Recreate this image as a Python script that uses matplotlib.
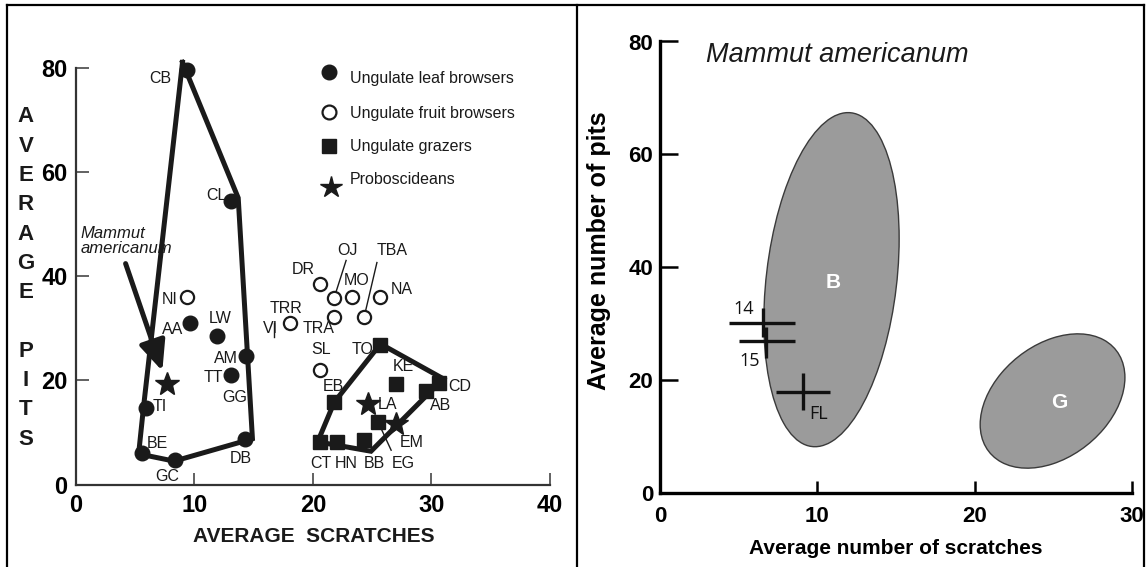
import matplotlib
matplotlib.use("Agg")
import matplotlib.pyplot as plt
from matplotlib.lines import Line2D
from matplotlib.patches import Circle
from matplotlib.transforms import Affine2D

# ---------------- data: left panel ----------------
leaf_names = ["CB", "CL", "AA", "LW", "AM", "TT", "TI", "BE", "GC", "DB"]
leaf_x = [9.4, 13.1, 9.6, 11.9, 14.35, 13.1, 5.9, 5.55, 8.4, 14.3]
leaf_y = [79.5, 54.5, 31.0, 28.5, 24.6, 21.0, 14.6, 6.1, 4.7, 8.8]

fruit_names = ["NI", "TRR", "DR", "OJ", "MO", "NA", "TRA", "TBA", "SL"]
fruit_x = [9.36, 18.1, 20.6, 21.8, 23.3, 25.7, 21.8, 24.3, 20.6]
fruit_y = [35.9, 31.0, 38.4, 35.8, 35.9, 35.9, 32.1, 32.1, 21.9]

grazer_names = ["TO", "KE", "CD", "AB", "EB", "EG", "CT", "HN", "BB"]
grazer_x = [25.7, 27.0, 30.6, 29.5, 21.8, 25.5, 20.6, 22.0, 24.3]
grazer_y = [26.7, 19.3, 19.4, 17.9, 15.8, 12.0, 8.2, 8.2, 8.5]

probo_names = ["Mammut", "LA", "EM"]
probo_x = [7.7, 24.65, 27.05]
probo_y = [19.3, 15.4, 11.7]

browser_hull_x = [9.0, 13.7, 14.9, 8.3, 5.3, 5.7, 9.0]
browser_hull_y = [81.0, 55.0, 8.8, 4.5, 5.9, 14.6, 81.0]
grazer_hull_x = [20.4, 21.8, 25.7, 31.0, 24.9, 20.4]
grazer_hull_y = [8.2, 15.8, 27.0, 20.3, 6.4, 8.2]

legend_labels = ["Ungulate leaf browsers", "Ungulate fruit browsers",
                 "Ungulate grazers", "Proboscideans"]

# ---------------- data: right panel ----------------
sample_names = ["14", "15", "FL"]
sample_x = [6.55, 6.75, 9.07]
sample_y = [30.1, 26.9, 17.9]
sample_x_lo = [4.4, 5.0, 7.4]
sample_x_hi = [8.6, 8.6, 10.8]
sample_y_lo = [27.7, 24.0, 14.7]
sample_y_hi = [32.7, 29.4, 21.3]

# ellipses: name, centre x, centre y, half-width, half-height, cos(phase)
ell_names = ["B", "G"]
ell_cx = [10.9, 24.95]
ell_cy = [37.8, 16.3]
ell_a = [4.3, 4.6]
ell_b = [29.6, 11.9]
ell_cosd = [0.245, 0.35]

ARIAL = ["Liberation Sans", "DejaVu Sans"]
NARROW = ARIAL

fig = plt.figure(figsize=(11.46, 5.67), dpi=100)

# frame lines
W, H = 1146.0, 567.0
for (x0, y0, x1, y1) in [(7, 5, 1144, 5), (7, 5, 7, 567), (577, 5, 577, 567), (1144, 5, 1144, 567)]:
    fig.add_artist(Line2D([x0 / W, x1 / W], [1 - y0 / H, 1 - y1 / H], color="black", lw=1.6,
                          transform=fig.transFigure))

# ================= LEFT PANEL =================
ax = fig.add_axes([75.8 / W, 1 - 484.6 / H, (550 - 75.8) / W, (484.6 - 67.6) / H])
ax.set_xlim(0, 40)
ax.set_ylim(0, 80)
for s in ["top", "right"]:
    ax.spines[s].set_visible(False)
for s in ["left", "bottom"]:
    ax.spines[s].set_color("#333333")
    ax.spines[s].set_linewidth(1.6)
ax.set_xticks([0, 10, 20, 30, 40])
ax.set_yticks([0, 20, 40, 60, 80])
ax.tick_params(direction="in", length=9, width=1.3, color="#555555", pad=7)
ax.tick_params(axis="y", pad=6)
for lab in ax.get_xticklabels() + ax.get_yticklabels():
    lab.set_family(NARROW)
    lab.set_fontweight("bold")
    lab.set_fontsize(17)
ax.xaxis.get_major_ticks()[0].tick1line.set_visible(False)
ax.yaxis.get_major_ticks()[0].tick1line.set_visible(False)

ax.plot(browser_hull_x, browser_hull_y, color="#1a1a1a", lw=3.6, clip_on=False,
        solid_joinstyle="miter", zorder=2)
ax.plot(grazer_hull_x, grazer_hull_y, color="#1a1a1a", lw=3.6, clip_on=False,
        solid_joinstyle="miter", zorder=2)

ax.plot(leaf_x, leaf_y, "o", color="#1a1a1a", ms=10.5, ls="none", zorder=3, clip_on=False)
ax.plot(fruit_x, fruit_y, "o", mfc="white", mec="#1a1a1a", mew=1.6, ms=9.5, ls="none", zorder=3)
ax.plot(grazer_x, grazer_y, "s", color="#1a1a1a", ms=10.5, ls="none", zorder=3)
ax.plot(probo_x, probo_y, "*", color="#1a1a1a", ms=18, ls="none", zorder=3)

# point labels (layout positions in data units)
label_pos = {
    "CB": (8.1, 78.0, "right"), "CL": (11.9, 55.5, "center"), "NI": (7.9, 35.6, "center"),
    "AA": (8.2, 29.7, "center"), "LW": (12.2, 31.8, "center"), "AM": (12.7, 24.1, "center"),
    "TT": (11.6, 20.5, "center"), "GG": (13.4, 16.7, "center"), "TI": (7.1, 15.0, "center"),
    "BE": (6.9, 7.8, "center"), "GC": (7.7, 1.6, "center"), "DB": (13.9, 5.1, "center"),
    "DR": (19.2, 41.3, "center"), "OJ": (22.9, 44.9, "center"), "TBA": (26.7, 44.9, "center"),
    "MO": (23.7, 39.2, "center"), "NA": (27.5, 37.5, "center"), "TRR": (17.7, 33.8, "center"),
    "VI": (16.4, 29.9, "center"), "TRA": (20.5, 29.9, "center"), "SL": (20.7, 26.0, "center"),
    "TO": (24.2, 26.0, "center"), "KE": (27.6, 22.6, "center"), "CD": (32.4, 18.9, "center"),
    "AB": (30.8, 15.1, "center"), "EB": (21.7, 18.9, "center"), "LA": (26.3, 15.3, "center"),
    "EM": (28.3, 8.0, "center"), "EG": (27.6, 4.0, "center"), "CT": (20.7, 4.0, "center"),
    "HN": (22.8, 4.1, "center"), "BB": (25.2, 4.0, "center"),
}
for name, (lx, ly, ha) in label_pos.items():
    ax.text(lx, ly, name, ha=ha, va="center", fontsize=11.5, family=NARROW, color="#1a1a1a",
            zorder=4)

# leader lines
ax.plot([22.8, 21.9], [43.0, 36.6], color="#1a1a1a", lw=1.0)
ax.plot([25.4, 24.4], [42.6, 32.9], color="#1a1a1a", lw=1.0)
ax.plot([25.5, 26.6], [12.0, 6.6], color="#1a1a1a", lw=1.0)
ax.plot([16.75, 16.75], [31.0, 28.3], color="#1a1a1a", lw=1.0)

# Mammut annotation
ax.text(0.4, 46.7, "Mammut\namericanum", style="italic", family=NARROW, fontsize=12,
        ha="left", va="center", linespacing=1.05, color="#1a1a1a")
ax.annotate("", xy=(7.3, 21.8), xytext=(4.2, 42.4),
            arrowprops=dict(arrowstyle="-|>,head_length=0.9,head_width=0.4", lw=3.6,
                            color="#1a1a1a", mutation_scale=20, shrinkA=0, shrinkB=0))

# legend (manual)
leg_y = [79.1, 71.5, 64.9, 58.0]
ax.plot([21.4], [leg_y[0]], "o", color="#1a1a1a", ms=10.5, clip_on=False)
ax.plot([21.4], [leg_y[1]], "o", mfc="white", mec="#1a1a1a", mew=1.6, ms=10)
ax.plot([21.4], [leg_y[2]], "s", color="#1a1a1a", ms=10)
ax.plot([21.5], [leg_y[3] - 1.0], "*", color="#1a1a1a", ms=16)
for yy, txt in zip([77.9, 71.2, 64.9, 58.6], legend_labels):
    ax.text(23.1, yy, txt, fontsize=11.5, family=NARROW, va="center", ha="left",
            color="#1a1a1a")

fig.text(314 / W, 1 - 537 / H, "AVERAGE  SCRATCHES", ha="center", va="center",
         fontsize=15, fontweight="bold", family=NARROW, color="#1a1a1a")
fig.text(26 / W, 1 - 278 / H, "A\nV\nE\nR\nA\nG\nE\n\nP\nI\nT\nS", ha="center", va="center",
         fontsize=16, fontweight="bold", family=ARIAL, linespacing=1.52, color="#1a1a1a")

# ================= RIGHT PANEL =================
bx = fig.add_axes([660 / W, 1 - 493 / H, (1132 - 660) / W, (493 - 41.5) / H])
bx.set_xlim(0, 30)
bx.set_ylim(0, 80)
for s in ["top", "right"]:
    bx.spines[s].set_visible(False)
for s in ["left", "bottom"]:
    bx.spines[s].set_linewidth(2.4)
bx.set_xticks([0, 10, 20, 30])
bx.set_yticks([0, 20, 40, 60, 80])
bx.tick_params(axis="y", direction="in", length=13, width=1.8, pad=5)
bx.tick_params(axis="x", direction="in", length=9, width=1.8, pad=9)
for lab in bx.get_xticklabels() + bx.get_yticklabels():
    lab.set_family(ARIAL)
    lab.set_fontweight("bold")
    lab.set_fontsize(16)
bx.xaxis.get_major_ticks()[0].tick1line.set_visible(False)
bx.yaxis.get_major_ticks()[0].tick1line.set_visible(False)

for name, cx, cy, a, b, cd in zip(ell_names, ell_cx, ell_cy, ell_a, ell_b, ell_cosd):
    sd = (1 - cd ** 2) ** 0.5
    aff = Affine2D.from_values(a, b * cd, 0, b * sd, cx, cy)
    bx.add_patch(Circle((0, 0), 1, transform=aff + bx.transData, facecolor="#9b9b9b",
                        edgecolor="#3a3a3a", lw=1.0, zorder=1))
    bx.text(cx + (0.1 if name == "B" else 0.45), cy - (0.5 if name == "B" else 0.2), name,
            color="white", fontweight="bold", family=ARIAL, fontsize=15, ha="center",
            va="center", zorder=2)

for nm, x, y, xl, xh, yl, yh in zip(sample_names, sample_x, sample_y, sample_x_lo,
                                    sample_x_hi, sample_y_lo, sample_y_hi):
    bx.errorbar([x], [y], xerr=[[x - xl], [xh - x]], yerr=[[y - yl], [yh - y]],
                fmt="none", ecolor="#111111", elinewidth=2.4, capsize=0, zorder=3)

lab_pos = {"14": (5.35, 32.6), "15": (5.7, 23.4), "FL": (10.1, 14.0)}
for nm in sample_names:
    lx, ly = lab_pos[nm]
    bx.text(lx, ly, nm, fontsize=13, family=["Open Sans", "DejaVu Sans"], ha="center",
            va="center", color="#111111", zorder=4)

bx.text(2.9, 77.6, "Mammut americanum", style="italic", family=ARIAL, fontsize=19.5,
        ha="left", va="center", color="#1a1a1a")
fig.text(896 / W, 1 - 549 / H, "Average number of scratches", ha="center", va="center",
         fontsize=15, fontweight="bold", family=ARIAL)
fig.text(599 / W, 1 - 251 / H, "Average number of pits", ha="center", va="center",
         rotation=90, fontsize=18, fontweight="bold", family=ARIAL)

fig.savefig("out.png", dpi=100, facecolor="white")
